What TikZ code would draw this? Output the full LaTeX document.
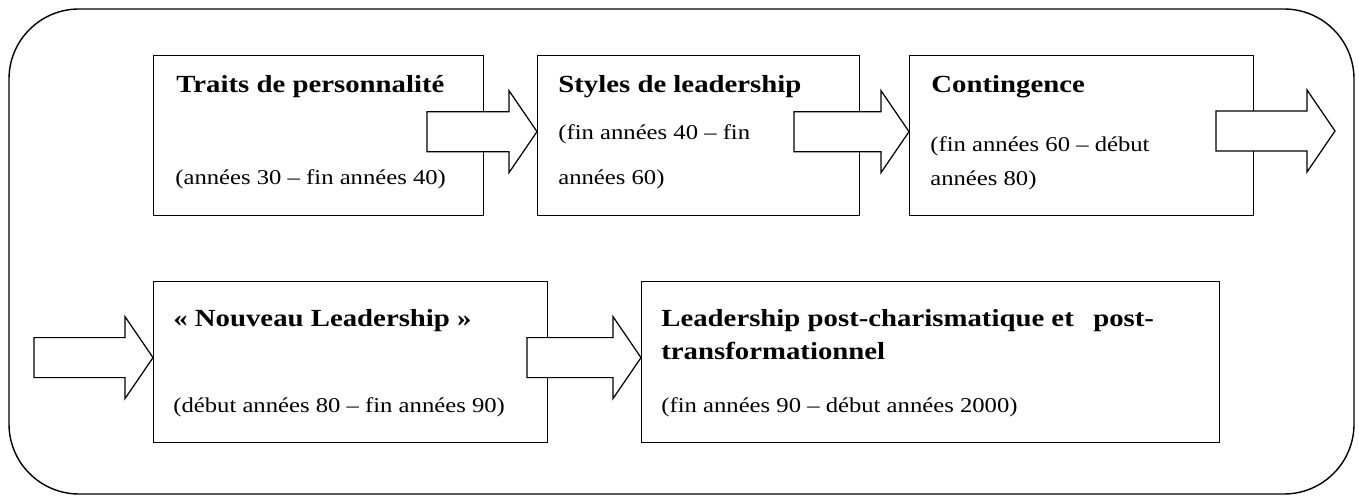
\documentclass[tikz,border=0pt]{standalone}
\usepackage{fontspec}
\setmainfont{Liberation Serif}[FakeStretch=1.17]
\usetikzlibrary{positioning}

% block arrow: tip point, shaft length (in px units)
\newcommand\blockarrow[2]{%
  \filldraw[bigarrow] (#1) -- ++(-28,-41) -- ++(0,21) -- ++(-#2,0)
    -- ++(0,40) -- ++(#2,0) -- ++(0,21) -- cycle;}

\begin{document}
\begin{tikzpicture}[x=0.02cm, y=-0.02cm,
  frame/.style={draw, line width=0.8pt, rounded corners=1.4cm},
  box/.style={draw, line width=0.8pt, inner sep=0pt, anchor=north west},
  bigarrow/.style={draw, fill=white, line width=0.7pt, line join=miter},
  title/.style={inner sep=0pt, anchor=base west, font=\bfseries\fontsize{14}{17}\selectfont},
  period/.style={inner sep=0pt, anchor=base west, font=\fontsize{12}{14}\selectfont}]
\useasboundingbox (0,0) rectangle (1359,496);
\draw[frame] (9,9) rectangle (1354,494);

% first row
\node[box, minimum width=6.6cm, minimum height=3.2cm] (b1) at (153,55) {};
\node[box, minimum width=6.44cm, minimum height=3.2cm] (b2) at (537,55) {};
\node[box, minimum width=6.88cm, minimum height=3.2cm] (b3) at (909,55) {};
% second row
\node[box, minimum width=7.88cm, minimum height=3.22cm] (b4) at (153,281) {};
\node[box, minimum width=11.56cm, minimum height=3.22cm] (b5) at (641,281) {};

\coordinate (a3tip) at (1335,131);
\blockarrow{[yshift=2.3pt]b2.west}{82}
\blockarrow{[yshift=2.3pt]b3.west}{87}
\blockarrow{a3tip}{91}
\blockarrow{[yshift=2.6pt]b4.west}{91}
\blockarrow{[yshift=2.6pt]b5.west}{86}

\node[title] (t1) at (176,93) {Traits de personnalité};
\node[period] (p1) at (175,185) {(années 30 – fin années 40)};

\node[title] (t2) at (558,93) {Styles de leadership};
\node[period] (p2a) at (558,140) {(fin années 40 – fin};
\node[period] (p2b) at (558,185) {années 60)};

\node[title] (t3) at (931,93) {Contingence};
\node[period] (p3a) at (930,152) {(fin années 60 – début};
\node[period] (p3b) at (930,186) {années 80)};

\node[title] (t4) at (173,327) {« Nouveau Leadership »};
\node[period] (p4) at (173,413) {(début années 80 – fin années 90)};

\node[title] (t5a) at (661,327) {Leadership post-charismatique et \hspace{0.5em}post-};
\node[title] (t5b) at (661,360) {transformationnel};
\node[period] (p5) at (661,413) {(fin années 90 – début années 2000)};
\end{tikzpicture}
\end{document}
